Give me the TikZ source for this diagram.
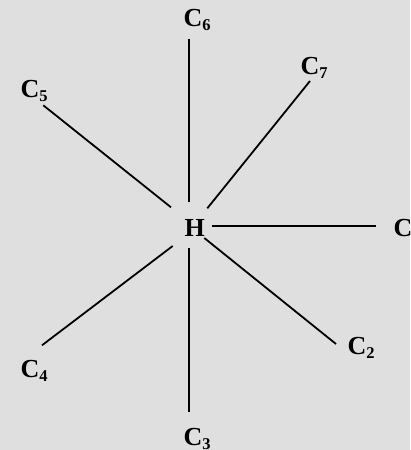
\documentclass[tikz,border=0pt]{standalone}
\usepackage{fontspec}
\setmainfont{Liberation Serif}
\usetikzlibrary{positioning}
\definecolor{bgColor}{HTML}{DFDFDF}
\newcommand{\atomsub}[1]{\raisebox{-4pt}{\fontsize{16.5}{17}\selectfont #1}}

\begin{document}
\begin{tikzpicture}[x=1pt, y=-1pt,
		lbl/.style={anchor=base west, inner sep=0pt, font=\fontsize{26}{28}\selectfont\bfseries},
		bond/.style={line width=1.8pt, draw=black, line cap=butt}
		]
		\fill[bgColor] (0,0) rectangle (410,450);
		\useasboundingbox (0,0) rectangle (410,450);

		% atoms
		\node[lbl] (H) at (184.5,236) {H};
		\node[lbl] (C1) at (393.5,236.5) {C\atomsub{1}};
		\node[lbl] (C2) at (347.5,354.5) {C\atomsub{2}};
		\node[lbl] (C3) at (183.5,445.5) {C\atomsub{3}};
		\node[lbl] (C4) at (20.5,377.5) {C\atomsub{4}};
		\node[lbl] (C5) at (20.5,97.5) {C\atomsub{5}};
		\node[lbl] (C6) at (183.5,26.5) {C\atomsub{6}};
		\node[lbl] (C7) at (300.5,74.5) {C\atomsub{7}};

		% bond ends
		\coordinate (h1) at (211.7,226); \coordinate (e1) at (376,226);
		\coordinate (h2) at (204.3,238); \coordinate (e2) at (336,344);
		\coordinate (h3) at (189,248.3); \coordinate (e3) at (189,412.3);
		\coordinate (h4) at (172.7,246); \coordinate (e4) at (42,345.3);
		\coordinate (h5) at (171,207.3); \coordinate (e5) at (43.3,105.3);
		\coordinate (h6) at (189,202.3); \coordinate (e6) at (189,39.3);
		\coordinate (h7) at (207.3,208.3); \coordinate (e7) at (310,81);

		\draw[bond] (h1) -- (e1);
		\draw[bond] (h2) -- (e2);
		\draw[bond] (h3) -- (e3);
		\draw[bond] (h4) -- (e4);
		\draw[bond] (h5) -- (e5);
		\draw[bond] (h6) -- (e6);
		\draw[bond] (h7) -- (e7);
	\end{tikzpicture}
\end{document}
